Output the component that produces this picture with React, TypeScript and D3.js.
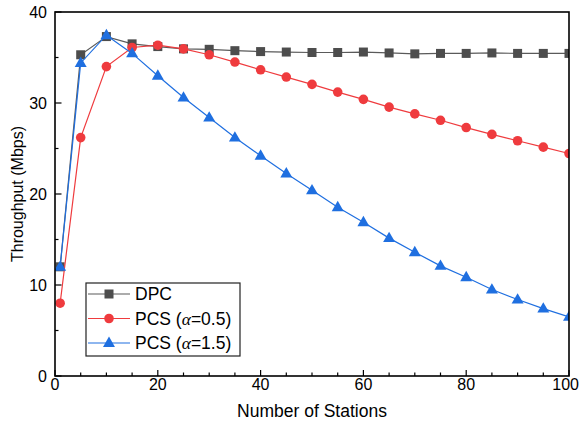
import React, { useEffect, useRef } from 'react';
import * as d3 from 'd3';

// x positions (number of stations)
const stations = [1, 5, 10, 15, 20, 25, 30, 35, 40, 45, 50, 55, 60, 65, 70, 75, 80, 85, 90, 95, 100];
const dpc = [12.0, 35.3, 37.3, 36.5, 36.2, 35.95, 35.9, 35.75, 35.65, 35.6, 35.55, 35.55, 35.6, 35.5, 35.4, 35.45, 35.45, 35.5, 35.45, 35.45, 35.45];
const pcs05 = [8.0, 26.2, 34.0, 36.1, 36.35, 35.95, 35.3, 34.5, 33.65, 32.85, 32.05, 31.2, 30.4, 29.55, 28.8, 28.1, 27.3, 26.55, 25.85, 25.15, 24.45];
const pcs15 = [12.0, 34.4, 37.45, 35.45, 33.0, 30.6, 28.4, 26.2, 24.2, 22.25, 20.4, 18.55, 16.9, 15.15, 13.6, 12.1, 10.85, 9.5, 8.4, 7.4, 6.5];

const xTicks = [0, 20, 40, 60, 80, 100];
const yTicks = [0, 10, 20, 30, 40];

const W = 580;
const H = 422;
const left = 55, right = 569, top = 12, bottom = 376;

const series = [
  { name: 'DPC', alpha: null, values: dpc, color: '#4d4d4d', line: '#5a5a5a', marker: 'square' },
  { name: 'PCS (', alpha: '0.5', values: pcs05, color: '#ef3b3e', line: '#ef3b3e', marker: 'circle' },
  { name: 'PCS (', alpha: '1.5', values: pcs15, color: '#1f6fe0', line: '#1f6fe0', marker: 'triangle' },
];

function drawMarker(g, type, x, y, color) {
  if (type === 'square') {
    g.append('rect').attr('x', x - 4.5).attr('y', y - 4.5).attr('width', 9).attr('height', 9).attr('fill', color);
  } else if (type === 'circle') {
    g.append('circle').attr('cx', x).attr('cy', y).attr('r', 4.8).attr('fill', color);
  } else {
    const s = d3.symbol().type(d3.symbolTriangle).size(62);
    g.append('path').attr('d', s()).attr('transform', `translate(${x},${y + 0.5})`).attr('fill', color);
  }
}

export default function App() {
  const ref = useRef<SVGSVGElement>(null);

  useEffect(() => {
    const svg = d3.select(ref.current);
    svg.selectAll('*').remove();

    const x = d3.scaleLinear().domain([0, 100]).range([left, right]);
    const y = d3.scaleLinear().domain([0, 40]).range([bottom, top]);

    svg.append('defs').append('clipPath').attr('id', 'plotclip')
      .append('rect').attr('x', left).attr('y', top).attr('width', right - left).attr('height', bottom - top);

    const plot = svg.append('g').attr('clip-path', 'url(#plotclip)');

    series.forEach(s => {
      const line = d3.line<number>().x((d, i) => x(stations[i])).y(d => y(d));
      plot.append('path').datum(s.values).attr('d', line).attr('fill', 'none')
        .attr('stroke', s.line).attr('stroke-width', 1.2);
      s.values.forEach((v, i) => drawMarker(plot, s.marker, x(stations[i]), y(v), s.color));
    });

    // frame
    svg.append('rect').attr('x', left).attr('y', top).attr('width', right - left).attr('height', bottom - top)
      .attr('fill', 'none').attr('stroke', '#000').attr('stroke-width', 1.6);

    // x ticks (inward)
    d3.range(0, 101, 5).forEach(t => {
      const major = t % 20 === 0;
      svg.append('line').attr('x1', x(t)).attr('x2', x(t)).attr('y1', bottom).attr('y2', bottom - (major ? 6 : 3.5))
        .attr('stroke', '#000').attr('stroke-width', 1.2);
    });
    xTicks.forEach(t => {
      // last label would run off the right edge: pin it inside
      const last = t === 100;
      svg.append('text').attr('x', last ? 579 : x(t)).attr('y', 390).attr('text-anchor', last ? 'end' : 'middle')
        .attr('font-family', 'Liberation Sans, Arial, sans-serif').attr('font-size', 16).text(t);
    });

    // y ticks (inward)
    d3.range(0, 41, 5).forEach(t => {
      const major = t % 10 === 0;
      svg.append('line').attr('x1', left).attr('x2', left + (major ? 6.5 : 3.5)).attr('y1', y(t)).attr('y2', y(t))
        .attr('stroke', '#000').attr('stroke-width', 1.2);
    });
    yTicks.forEach(t => {
      svg.append('text').attr('x', 47).attr('y', y(t)).attr('dy', '0.36em').attr('text-anchor', 'end')
        .attr('font-family', 'Liberation Sans, Arial, sans-serif').attr('font-size', 16).text(t);
    });

    // axis titles
    svg.append('text').attr('x', (left + right) / 2).attr('y', 417).attr('text-anchor', 'middle')
      .attr('font-family', 'Liberation Sans, Arial, sans-serif').attr('font-size', 17.5).text('Number of Stations');
    svg.append('text').attr('transform', `translate(23,${(top + bottom) / 2}) rotate(-90)`).attr('text-anchor', 'middle')
      .attr('font-family', 'Liberation Sans, Arial, sans-serif').attr('font-size', 16).text('Throughput (Mbps)');

    // legend
    const lg = svg.append('g');
    lg.append('rect').attr('x', 86).attr('y', 283).attr('width', 154).attr('height', 73)
      .attr('fill', '#fff').attr('stroke', '#222').attr('stroke-width', 1.2);
    series.forEach((s, i) => {
      const ly = 294 + i * 24.5;
      lg.append('line').attr('x1', 88).attr('x2', 130).attr('y1', ly).attr('y2', ly)
        .attr('stroke', s.line).attr('stroke-width', 1.2);
      drawMarker(lg, s.marker, 109, ly, s.color);
      const t = lg.append('text').attr('x', 135).attr('y', ly).attr('dy', '0.36em')
        .attr('font-family', 'Liberation Sans, Arial, sans-serif').attr('font-size', 17.5);
      t.append('tspan').text(s.name);
      if (s.alpha) {
        t.append('tspan').attr('font-family', 'Liberation Serif, serif').attr('font-style', 'italic').text('α');
        t.append('tspan').text('=' + s.alpha + ')');
      }
    });
  }, []);

  return (
    <svg ref={ref} width={W} height={H} style={{ position: 'absolute', left: 0, top: 0, background: '#fff' }} />
  );
}
